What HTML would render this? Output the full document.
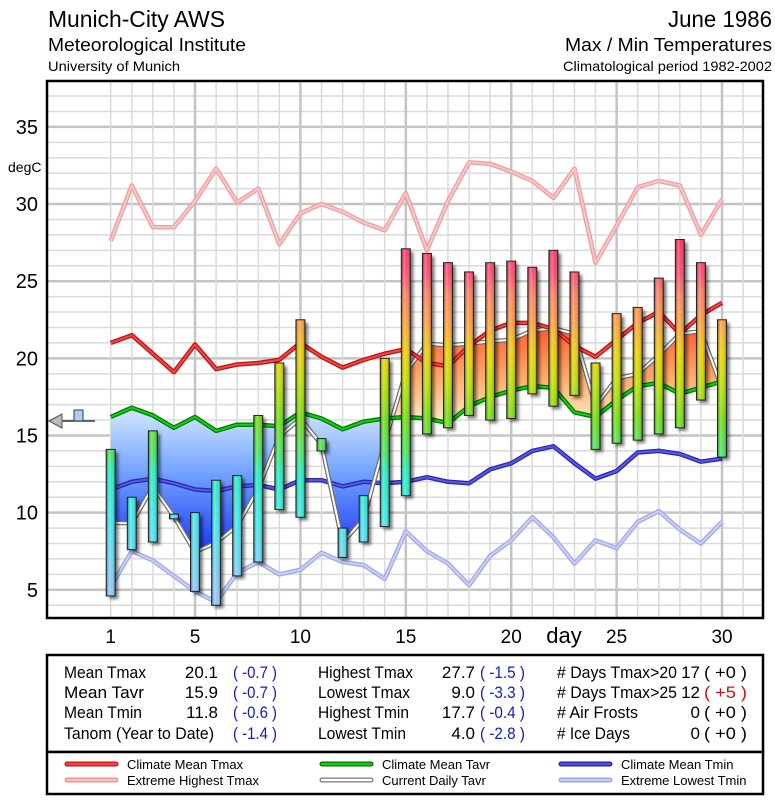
<!DOCTYPE html>
<html><head><meta charset="utf-8"><style>
html,body{margin:0;padding:0;background:#fff}
svg{display:block;font-family:"Liberation Sans",sans-serif}
</style></head><body>
<svg id="chart" width="775" height="800" viewBox="0 0 775 800" xmlns="http://www.w3.org/2000/svg">
<defs>
<linearGradient id="barGrad" gradientUnits="userSpaceOnUse" x1="0" y1="589.8" x2="0" y2="219.6">
<stop offset="0" stop-color="#90c8f8"/>
<stop offset="0.18" stop-color="#40e8f0"/>
<stop offset="0.32" stop-color="#20f0c0"/>
<stop offset="0.36" stop-color="#40e870"/>
<stop offset="0.46" stop-color="#70e010"/>
<stop offset="0.56" stop-color="#c0e000"/>
<stop offset="0.64" stop-color="#f0d000"/>
<stop offset="0.72" stop-color="#ffa040"/>
<stop offset="0.80" stop-color="#ff8060"/>
<stop offset="0.85" stop-color="#ff5070"/>
<stop offset="1" stop-color="#ff2060"/>
</linearGradient>
<linearGradient id="cyl" x1="0" y1="0" x2="1" y2="0">
<stop offset="0" stop-color="#000" stop-opacity="0.45"/>
<stop offset="0.35" stop-color="#fff" stop-opacity="0.25"/>
<stop offset="0.6" stop-color="#fff" stop-opacity="0"/>
<stop offset="1" stop-color="#000" stop-opacity="0.4"/>
</linearGradient>
<linearGradient id="blueFill" gradientUnits="userSpaceOnUse" x1="0" y1="405" x2="0" y2="580">
<stop offset="0" stop-color="#d8ecff"/>
<stop offset="0.4" stop-color="#6fa0ff"/>
<stop offset="1" stop-color="#0010f0"/>
</linearGradient>
<linearGradient id="orangeFill" gradientUnits="userSpaceOnUse" x1="0" y1="330" x2="0" y2="430">
<stop offset="0" stop-color="#ff6030"/>
<stop offset="0.5" stop-color="#ffb070"/>
<stop offset="1" stop-color="#fff4d8"/>
</linearGradient>
<filter id="shadow" x="-50%" y="-10%" width="200%" height="130%"><feGaussianBlur stdDeviation="1.5"/></filter>
<clipPath id="plotClip"><rect x="47" y="81" width="716" height="537"/></clipPath>
</defs>

<g>
<text x="48" y="27" font-size="23" textLength="177" lengthAdjust="spacingAndGlyphs">Munich-City AWS</text>
<text x="48" y="51" font-size="18" textLength="198" lengthAdjust="spacingAndGlyphs">Meteorological Institute</text>
<text x="48" y="71" font-size="14" textLength="132" lengthAdjust="spacingAndGlyphs">University of Munich</text>
<text x="668" y="27" font-size="23" textLength="104" lengthAdjust="spacingAndGlyphs">June 1986</text>
<text x="565" y="51" font-size="18" textLength="207" lengthAdjust="spacingAndGlyphs">Max / Min Temperatures</text>
<text x="563" y="71" font-size="14" textLength="209" lengthAdjust="spacingAndGlyphs">Climatological period 1982-2002</text>
</g>

<g id="grid"></g>
<g id="fills" clip-path="url(#plotClip)"></g>
<g id="lines" clip-path="url(#plotClip)"></g>
<g id="bars"></g>
<rect x="47" y="81" width="716" height="537" fill="none" stroke="#000" stroke-width="2.5"/>
<g id="axes"></g>

<g>
<line x1="60" y1="421" x2="95" y2="421" stroke="#333" stroke-width="1.5"/>
<polygon points="49,421 62,414 62,428" fill="#bbb" stroke="#555" stroke-width="1"/>
<rect x="74" y="410" width="9" height="11" fill="#a8d0f0" stroke="#335" stroke-width="1"/>
</g>

<g font-size="17">
<rect x="47" y="655" width="716" height="97" fill="#fff" stroke="#000" stroke-width="2.5"/>
<text x="64" y="678" textLength="82" lengthAdjust="spacingAndGlyphs">Mean Tmax</text><text x="218" y="678" text-anchor="end">20.1</text><text x="233" y="678" fill="#1020c0" textLength="44" lengthAdjust="spacingAndGlyphs">( -0.7 )</text>
<text x="64" y="698" textLength="80" lengthAdjust="spacingAndGlyphs">Mean Tavr</text><text x="218" y="698" text-anchor="end">15.9</text><text x="233" y="698" fill="#1020c0" textLength="44" lengthAdjust="spacingAndGlyphs">( -0.7 )</text>
<text x="64" y="718" textLength="78" lengthAdjust="spacingAndGlyphs">Mean Tmin</text><text x="218" y="718" text-anchor="end">11.8</text><text x="233" y="718" fill="#1020c0" textLength="44" lengthAdjust="spacingAndGlyphs">( -0.6 )</text>
<text x="64" y="739" textLength="150" lengthAdjust="spacingAndGlyphs">Tanom (Year to Date)</text><text x="233" y="739" fill="#1020c0" textLength="44" lengthAdjust="spacingAndGlyphs">( -1.4 )</text>
<text x="318" y="678" textLength="95" lengthAdjust="spacingAndGlyphs">Highest Tmax</text><text x="475" y="678" text-anchor="end">27.7</text><text x="480" y="678" fill="#1020c0" textLength="45" lengthAdjust="spacingAndGlyphs">( -1.5 )</text>
<text x="318" y="698" textLength="92" lengthAdjust="spacingAndGlyphs">Lowest Tmax</text><text x="475" y="698" text-anchor="end">9.0</text><text x="480" y="698" fill="#1020c0" textLength="45" lengthAdjust="spacingAndGlyphs">( -3.3 )</text>
<text x="318" y="718" textLength="91" lengthAdjust="spacingAndGlyphs">Highest Tmin</text><text x="475" y="718" text-anchor="end">17.7</text><text x="480" y="718" fill="#1020c0" textLength="45" lengthAdjust="spacingAndGlyphs">( -0.4 )</text>
<text x="318" y="739" textLength="88" lengthAdjust="spacingAndGlyphs">Lowest Tmin</text><text x="475" y="739" text-anchor="end">4.0</text><text x="480" y="739" fill="#1020c0" textLength="45" lengthAdjust="spacingAndGlyphs">( -2.8 )</text>
<text x="557" y="678" textLength="120" lengthAdjust="spacingAndGlyphs"># Days Tmax&gt;20</text><text x="700" y="678" text-anchor="end">17</text><text x="704" y="678" textLength="43" lengthAdjust="spacingAndGlyphs">( +0 )</text>
<text x="557" y="698" textLength="120" lengthAdjust="spacingAndGlyphs"># Days Tmax&gt;25</text><text x="700" y="698" text-anchor="end">12</text><text x="704" y="698" fill="#d01010" textLength="43" lengthAdjust="spacingAndGlyphs">( +5 )</text>
<text x="557" y="718" textLength="81" lengthAdjust="spacingAndGlyphs"># Air Frosts</text><text x="700" y="718" text-anchor="end">0</text><text x="704" y="718" textLength="43" lengthAdjust="spacingAndGlyphs">( +0 )</text>
<text x="557" y="739" textLength="73" lengthAdjust="spacingAndGlyphs"># Ice Days</text><text x="700" y="739" text-anchor="end">0</text><text x="704" y="739" textLength="43" lengthAdjust="spacingAndGlyphs">( +0 )</text>
</g>

<g font-size="13">
<rect x="47" y="752" width="716" height="42" fill="#fff" stroke="#000" stroke-width="2.5"/>
<g><line x1="67" y1="764" x2="116" y2="764" stroke="#b01818" stroke-width="5" stroke-linecap="round"/><line x1="67" y1="764" x2="116" y2="764" stroke="#ff4040" stroke-width="2.5" stroke-linecap="round"/><text x="127" y="769">Climate Mean Tmax</text></g>
<g><line x1="67" y1="780" x2="116" y2="780" stroke="#e09090" stroke-width="5" stroke-linecap="round"/><line x1="67" y1="780" x2="116" y2="780" stroke="#ffc0c0" stroke-width="2.5" stroke-linecap="round"/><text x="127" y="785">Extreme Highest Tmax</text></g>
<g><line x1="322" y1="764" x2="371" y2="764" stroke="#007000" stroke-width="5" stroke-linecap="round"/><line x1="322" y1="764" x2="371" y2="764" stroke="#10d010" stroke-width="2.5" stroke-linecap="round"/><text x="382" y="769">Climate Mean Tavr</text></g>
<g><line x1="322" y1="780" x2="371" y2="780" stroke="#777" stroke-width="5" stroke-linecap="round"/><line x1="322" y1="780" x2="371" y2="780" stroke="#fff" stroke-width="2.5" stroke-linecap="round"/><text x="382" y="785">Current Daily Tavr</text></g>
<g><line x1="561" y1="764" x2="610" y2="764" stroke="#2020a0" stroke-width="5" stroke-linecap="round"/><line x1="561" y1="764" x2="610" y2="764" stroke="#5050e8" stroke-width="2.5" stroke-linecap="round"/><text x="621" y="769">Climate Mean Tmin</text></g>
<g><line x1="561" y1="780" x2="610" y2="780" stroke="#98a0e0" stroke-width="5" stroke-linecap="round"/><line x1="561" y1="780" x2="610" y2="780" stroke="#c4ccf8" stroke-width="2.5" stroke-linecap="round"/><text x="621" y="785">Extreme Lowest Tmin</text></g>
</g>
</svg>
<script>
const days = [1,2,3,4,5,6,7,8,9,10,11,12,13,14,15,16,17,18,19,20,21,22,23,24,25,26,27,28,29,30];
const tmax = [14.1,11.0,15.3,9.9,10.0,12.1,12.4,16.3,19.7,22.5,14.8,9.0,11.1,20.0,27.1,26.8,26.2,25.6,26.2,26.3,25.9,27.0,25.6,19.7,22.9,23.3,25.2,27.7,26.2,22.5];
const tmin = [4.6,7.6,8.1,9.6,4.9,4.0,5.9,6.8,10.2,9.7,14.0,7.1,8.1,9.1,11.1,15.1,15.5,16.3,16.0,16.1,17.7,16.9,17.6,14.1,14.5,14.7,15.1,15.5,17.3,13.6];
const tavr = [9.35,9.3,11.7,9.75,7.45,8.05,9.15,11.55,14.95,16.1,14.4,8.05,9.6,14.55,19.1,20.95,20.85,20.95,21.1,21.2,21.8,21.95,21.6,16.9,18.7,19.0,20.2,21.6,21.75,18.05];
const climTmax = [21.0,21.5,20.3,19.1,20.9,19.3,19.6,19.7,19.9,21.0,20.1,19.4,19.9,20.3,20.6,19.7,19.5,20.8,21.8,22.3,22.3,21.9,20.8,20.1,21.2,22.3,23.0,21.6,22.8,23.6];
const extTmax = [27.6,31.2,28.5,28.5,30.2,32.3,30.1,31.0,27.4,29.4,30.0,29.5,28.8,28.3,30.7,27.0,30.2,32.7,32.6,32.1,31.5,30.4,32.3,26.2,28.6,31.1,31.5,31.2,28.0,30.3];
const climTavr = [16.2,16.8,16.3,15.5,16.2,15.3,15.7,15.7,15.6,16.5,16.1,15.4,15.9,16.1,16.2,16.1,15.8,16.9,17.5,17.9,18.2,18.1,16.5,16.2,17.3,18.2,18.4,17.7,18.1,18.5];
const climTmin = [11.5,12.0,12.2,11.9,11.5,11.4,11.7,11.8,11.5,12.1,12.1,11.7,12.0,11.9,12.0,12.3,12.0,11.9,12.8,13.2,14.0,14.3,13.2,12.2,12.7,13.9,14.0,13.8,13.3,13.5];
const extTmin = [5.2,7.5,6.9,5.9,4.9,4.2,6.1,6.8,6.0,6.3,7.4,6.8,6.6,5.7,8.8,7.5,6.7,5.3,7.2,8.2,9.7,8.4,6.7,8.2,7.7,9.4,10.1,8.9,8.0,9.4];
const yTicks = [5,10,15,20,25,30,35];
const xTicks = [1,5,10,15,20,25,30];

const NS = 'http://www.w3.org/2000/svg';
function X(d){ return 110.7 + (d-1)*21.08; }
function Y(v){ return 80.6 + (38 - v)*15.43; }
function mk(tag, attrs, parent){ const e=document.createElementNS(NS,tag); for(const k in attrs) e.setAttribute(k,attrs[k]); parent.appendChild(e); return e; }
function pts(arr){ return arr.map((v,i)=>X(days[i]).toFixed(1)+','+Y(v).toFixed(1)).join(' '); }

const grid = document.getElementById('grid');
for(let v=4; v<=37; v++){
  const thick = v%5===0;
  const l = mk('line',{x1:47,x2:763,y1:Y(v),y2:Y(v),stroke:thick?'#c4c4c4':'#dadada','stroke-width':thick?2.5:1.5},grid);
  
  
}
for(let d=1; d<=31; d++){
  const thick = d%5===0;
  const l = mk('line',{x1:X(d),x2:X(d),y1:81,y2:618,stroke:thick?'#c4c4c4':'#dadada','stroke-width':thick?2.5:1.5},grid);
  
  
}

const fills = document.getElementById('fills');
const defs = document.querySelector('defs');
const belowPoly = pts(climTavr) + ' ' + X(30)+',620 '+X(1)+',620';
const abovePoly = pts(climTavr) + ' ' + X(30)+',80 '+X(1)+',80';
const cb = mk('clipPath',{id:'belowClim'},defs); mk('polygon',{points:belowPoly},cb);
const ca = mk('clipPath',{id:'aboveClim'},defs); mk('polygon',{points:abovePoly},ca);
const between = pts(climTavr) + ' ' + tavr.map((v,i)=>X(days[i]).toFixed(1)+','+Y(v).toFixed(1)).reverse().join(' ');
const gb = mk('g',{'clip-path':'url(#belowClim)'},fills);
const pb = mk('polygon',{points:between,fill:'url(#blueFill)'},gb);


const ga = mk('g',{'clip-path':'url(#aboveClim)'},fills);
const pa = mk('polygon',{points:between,fill:'url(#orangeFill)'},ga);



const lines = document.getElementById('lines');
function series(arr, outer, inner, name){
  const g = mk('g',{},lines);
  
  
  mk('polyline',{points:pts(arr),fill:'none',stroke:outer,'stroke-width':4.5,'stroke-linejoin':'round'},g);
  mk('polyline',{points:pts(arr),fill:'none',stroke:inner,'stroke-width':2,'stroke-linejoin':'round'},g);
}
series(extTmax,'#e8a0a0','#ffc4c4','extreme-highest-tmax-line');
series(extTmin,'#a0a8e8','#c8d0fa','extreme-lowest-tmin-line');
series(climTmin,'#2828a8','#5858f0','climate-mean-tmin-line');
series(tavr,'#707070','#ffffff','current-daily-tavr-line');
series(climTavr,'#007800','#10d010','climate-mean-tavr-line');
series(climTmax,'#b01818','#ff4040','climate-mean-tmax-line');

const bars = document.getElementById('bars');
days.forEach((d,i)=>{
  const x = X(d)-4.5, y1 = Y(tmax[i]), y2 = Y(tmin[i]);
  const h = Math.max(y2-y1, 2);
  const g = mk('g',{},bars);
  
  
  mk('rect',{x:x+3,y:y1+3,width:9,height:h,fill:'#000',opacity:0.55,filter:'url(#shadow)'},g);
  mk('rect',{x:x,y:y1,width:9,height:h,fill:'url(#barGrad)'},g);
  mk('rect',{x:x,y:y1,width:9,height:h,fill:'url(#cyl)',stroke:'#222','stroke-width':1},g);
});

const axes = document.getElementById('axes');
yTicks.forEach(v=>{
  const t = mk('text',{x:38,y:Y(v)+7,'font-size':20,'text-anchor':'end'},axes);
  t.textContent = v;
  
  
});
const yt = mk('text',{x:8,y:172,'font-size':14},axes);
yt.textContent = 'degC';


xTicks.forEach(d=>{
  const t = mk('text',{x:X(d),y:643,'font-size':19,'text-anchor':'middle'},axes);
  t.textContent = d;
  
  
});
const xt = mk('text',{x:564,y:643,'font-size':22,'text-anchor':'middle'},axes);
xt.textContent = 'day';


</script>
</body></html>
